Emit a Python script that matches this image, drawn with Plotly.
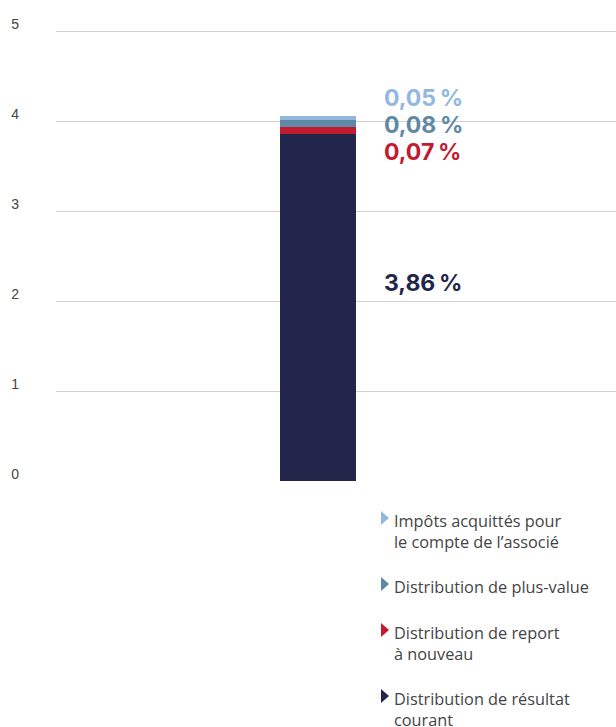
import plotly.graph_objects as go

# ---- data ----
series_names = [
    "Distribution de résultat<br>courant",
    "Distribution de report<br>à nouveau",
    "Distribution de plus-value",
    "Impôts acquittés pour<br>le compte de l’associé",
]
series_values = [3.86, 0.07, 0.08, 0.05]
series_colors = ["#22264a", "#c21b2f", "#5e88a5", "#93b7e1"]
y_ticks = [0, 1, 2, 3, 4, 5]

W, H = 616, 727
L, R, T, B = 56, 0, 22, 246
PW, PH = W - L - R, H - T - B

def px_x(p):
    return (p - L) / PW

def px_y(p):
    return (H - B - p) / PH

def fmt(v):
    return f"{v:.2f}".replace(".", ",") + "\u202f%"

fig = go.Figure()
for name, v, c in zip(series_names, series_values, series_colors):
    fig.add_trace(go.Bar(x=[0], y=[v], name=name.replace("<br>", " "),
                         marker=dict(color=c, line=dict(width=0)),
                         width=1, showlegend=False, hoverinfo="y+name"))

# value labels (top to bottom in the picture: 0,05 / 0,08 / 0,07 / 3,86)
label_pix_y = [283, 152, 125, 98]
for v, c, py in zip(series_values, series_colors, label_pix_y):
    fig.add_annotation(x=px_x(382), y=px_y(py), xref="paper", yref="paper",
                       xanchor="left", yanchor="middle", showarrow=False,
                       text=f"<b>{fmt(v)}</b>",
                       font=dict(family="Inter", size=23, color=c))

# legend drawn as annotations + triangle shapes (top to bottom: last series first)
legend_line_center = [521, 587, 633, 699]
for (name, c), cy in zip(list(zip(series_names, series_colors))[::-1], legend_line_center):
    ty = cy - 3
    x0, x1 = px_x(381), px_x(389)
    fig.add_shape(type="path", xref="paper", yref="paper",
                  path=f"M {x0} {px_y(ty - 7)} L {x1} {px_y(ty)} L {x0} {px_y(ty + 7)} Z",
                  fillcolor=c, line=dict(width=0))
    fig.add_annotation(x=px_x(393), y=px_y(cy - 12), xref="paper", yref="paper",
                       xanchor="left", yanchor="top", showarrow=False, align="left",
                       borderpad=0,
                       text=name, font=dict(family="Open Sans", size=16.3, color="#444444"))

fig.update_layout(
    width=W, height=H,
    margin=dict(l=L, r=R, t=T, b=B, pad=0),
    plot_bgcolor="white", paper_bgcolor="white",
    barmode="stack",
    font=dict(family="Liberation Sans", size=14, color="#444444"),
    xaxis=dict(range=[(L - 318) / 76, (W - 318) / 76], visible=False, fixedrange=True),
    yaxis=dict(range=[0, 5.1], tickvals=y_ticks, ticktext=[str(t) for t in y_ticks],
               showgrid=True, gridcolor="#d0d0d0", gridwidth=1, zeroline=False,
               showline=False, ticks="", ticklabelstandoff=36, ticklabelshift=-7,
               tickfont=dict(family="Liberation Sans", size=14, color="#444444")),
)

fig.write_html("out.html", config={"displayModeBar": False},
               post_script="document.body.style.margin='0';document.body.style.overflow='hidden';")
